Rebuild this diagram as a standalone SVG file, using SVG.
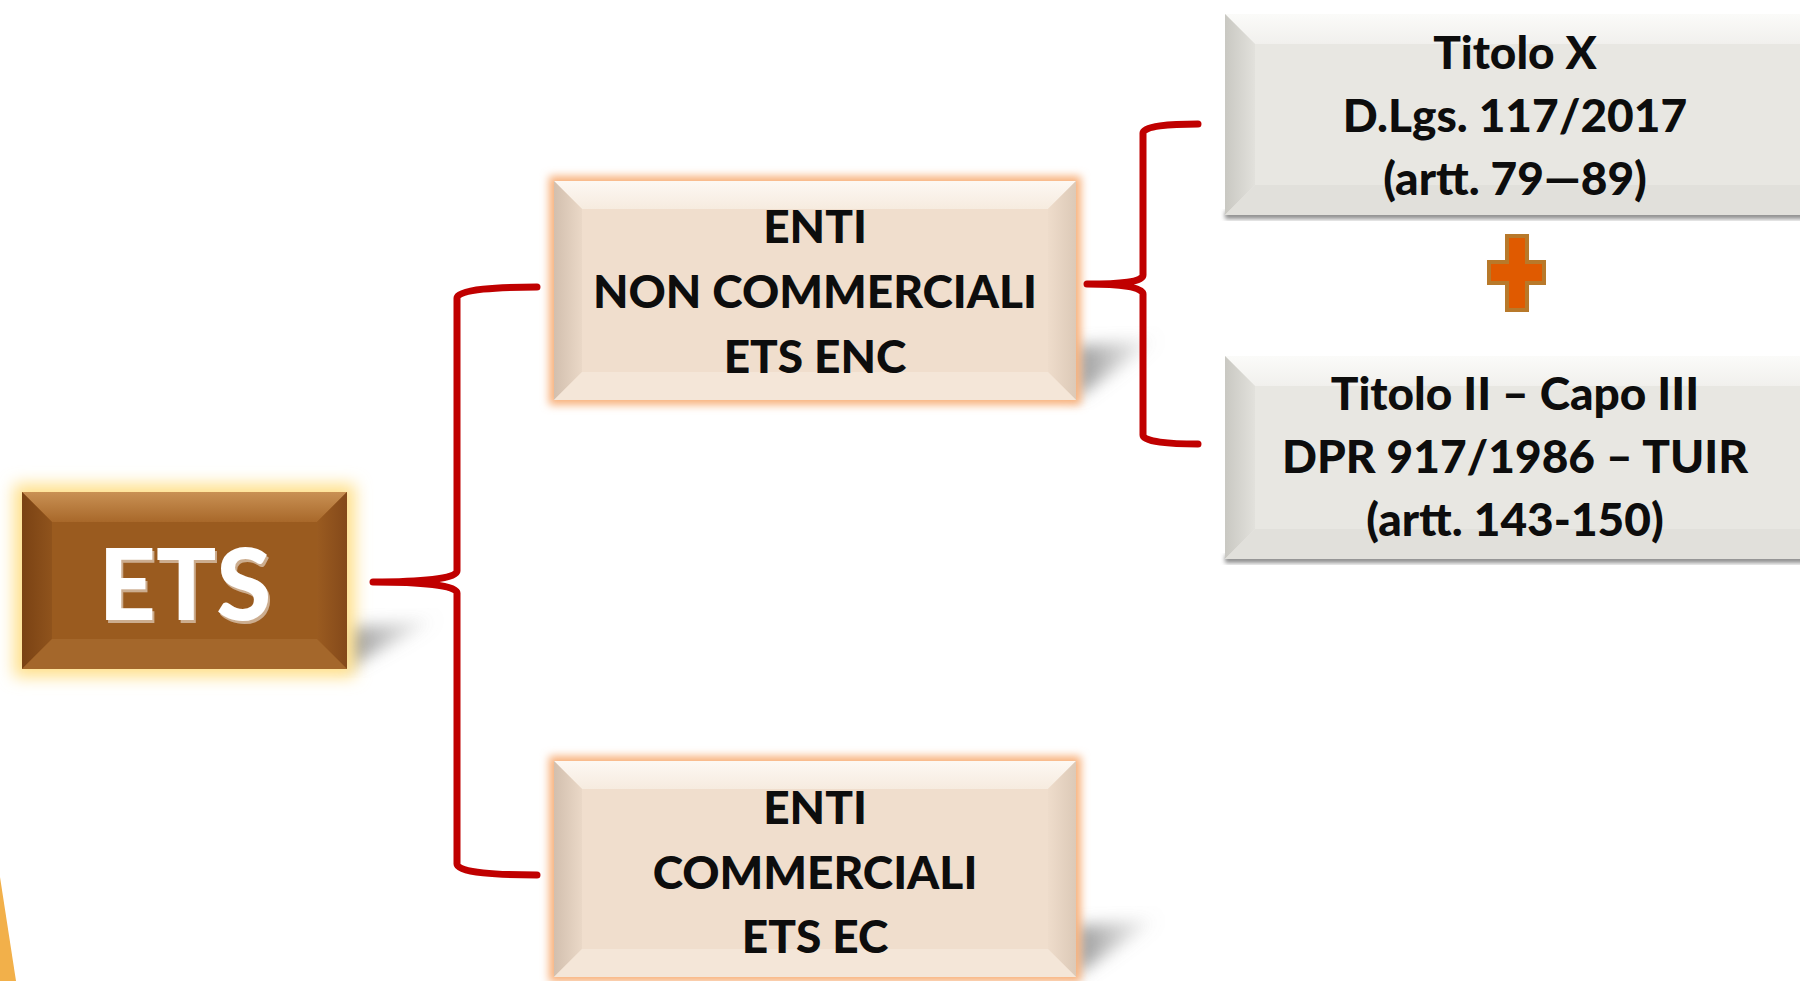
<svg xmlns="http://www.w3.org/2000/svg" width="1800" height="981" viewBox="0 0 1800 981">
<defs>
<style>
.t{font-family:Lato,"Open Sans","Liberation Sans",sans-serif;font-weight:900;fill:#0d0d0d;text-anchor:middle}
.tw{font-family:Lato,"Open Sans","Liberation Sans",sans-serif;font-weight:900;fill:#ffffff;text-anchor:middle}
.br{fill:none;stroke:#C00000;stroke-width:7;stroke-linecap:round;stroke-linejoin:round}
</style>
<filter id="blur8" x="-20%" y="-20%" width="140%" height="140%"><feGaussianBlur stdDeviation="8"/></filter>
<filter id="blur4" x="-20%" y="-20%" width="140%" height="140%"><feGaussianBlur stdDeviation="4"/></filter>
<filter id="blur2" x="-20%" y="-20%" width="140%" height="140%"><feGaussianBlur stdDeviation="2"/></filter>
<linearGradient id="shd" x1="0" y1="0" x2="1" y2="0"><stop offset="0" stop-color="#7a7a7a" stop-opacity="0.8"/><stop offset="1" stop-color="#9a9a9a" stop-opacity="0"/></linearGradient>
<linearGradient id="encTop" x1="0" y1="0" x2="0" y2="1"><stop offset="0" stop-color="#fdf8f3"/><stop offset="1" stop-color="#f6ebdf"/></linearGradient>
<linearGradient id="encLeft" x1="0" y1="0" x2="1" y2="0"><stop offset="0" stop-color="#d2bfae"/><stop offset="1" stop-color="#ead8c7"/></linearGradient>
<linearGradient id="encRight" x1="1" y1="0" x2="0" y2="0"><stop offset="0" stop-color="#dcc9b7"/><stop offset="1" stop-color="#eedccb"/></linearGradient>
<linearGradient id="etsTop" x1="0" y1="0" x2="0" y2="1"><stop offset="0" stop-color="#c99154"/><stop offset="1" stop-color="#a8682a"/></linearGradient>
<linearGradient id="etsLeft" x1="0" y1="0" x2="1" y2="0"><stop offset="0" stop-color="#7a4214"/><stop offset="1" stop-color="#8f531c"/></linearGradient>
<linearGradient id="etsRight" x1="1" y1="0" x2="0" y2="0"><stop offset="0" stop-color="#84491a"/><stop offset="1" stop-color="#9a5b20"/></linearGradient>
<linearGradient id="grTop" x1="0" y1="0" x2="0" y2="1"><stop offset="0" stop-color="#fbfbf9"/><stop offset="1" stop-color="#f1f0ed"/></linearGradient>
<linearGradient id="grLeft" x1="0" y1="0" x2="1" y2="0"><stop offset="0" stop-color="#c9c8c2"/><stop offset="1" stop-color="#e2e1dc"/></linearGradient>
</defs>
<rect width="1800" height="981" fill="#ffffff"/>
<polygon points="0,877 16,981 0,981" fill="#F2B04A"/>

<g id="node-ets">
<polygon points="347,628 440,618 347,668" fill="url(#shd)" filter="url(#blur8)"/>
<rect x="14" y="484" width="341" height="193" fill="#FFE08A" filter="url(#blur8)"/>
<rect x="22" y="492" width="325" height="177" fill="#9A5B1F"/>
<polygon points="22,492 347,492 317,522 52,522" fill="url(#etsTop)"/>
<polygon points="22,492 52,522 52,639 22,669" fill="url(#etsLeft)"/>
<polygon points="347,492 347,669 317,639 317,522" fill="url(#etsRight)"/>
<polygon points="22,669 52,639 317,639 347,669" fill="#a4672b"/>
<text class="tw" x="185" y="620" font-size="100" fill="#5a3008" opacity="0.5" transform="translate(2,3)">ETS</text>
<text class="tw" x="185" y="620" font-size="100">ETS</text>
</g>

<g id="node-enc">
<polygon points="1076,346 1160,338 1076,398" fill="url(#shd)" filter="url(#blur8)"/>
<rect x="549" y="176" width="532" height="229" fill="#F8B07A" filter="url(#blur4)"/>
<rect x="554" y="181" width="522" height="219" fill="#F0DECD"/>
<polygon points="554,181 1076,181 1048,209 582,209" fill="url(#encTop)"/>
<polygon points="554,181 582,209 582,372 554,400" fill="url(#encLeft)"/>
<polygon points="1076,181 1076,400 1048,372 1048,209" fill="url(#encRight)"/>
<polygon points="554,400 582,372 1048,372 1076,400" fill="#f4e6d8"/>
<text class="t" x="815" y="243" font-size="46">ENTI</text>
<text class="t" x="815" y="308" font-size="46">NON COMMERCIALI</text>
<text class="t" x="815" y="373" font-size="46">ETS ENC</text>
</g>

<g id="node-ec">
<polygon points="1076,926 1160,918 1076,975" fill="url(#shd)" filter="url(#blur8)"/>
<rect x="549" y="756" width="532" height="226" fill="#F8B07A" filter="url(#blur4)"/>
<rect x="554" y="761" width="522" height="216" fill="#F0DECD"/>
<polygon points="554,761 1076,761 1048,789 582,789" fill="url(#encTop)"/>
<polygon points="554,761 582,789 582,949 554,977" fill="url(#encLeft)"/>
<polygon points="1076,761 1076,977 1048,949 1048,789" fill="url(#encRight)"/>
<polygon points="554,977 582,949 1048,949 1076,977" fill="#f4e6d8"/>
<text class="t" x="815" y="824" font-size="46">ENTI</text>
<text class="t" x="815" y="889" font-size="46">COMMERCIALI</text>
<text class="t" x="815" y="953" font-size="46">ETS EC</text>
</g>

<g id="node-titolo-x">
<rect x="1225" y="211" width="605" height="8" fill="#8f8f8f" filter="url(#blur2)"/>
<rect x="1225" y="14" width="605" height="201" fill="#E8E7E2"/>
<polygon points="1225,14 1830,14 1800,44 1255,44" fill="url(#grTop)"/>
<polygon points="1225,14 1255,44 1255,185 1225,215" fill="url(#grLeft)"/>
<polygon points="1830,14 1830,215 1800,185 1800,44" fill="#dcdbd6"/>
<polygon points="1225,215 1255,185 1800,185 1830,215" fill="#e1e0db"/>
<text class="t" x="1515" y="69" font-size="46">Titolo X</text>
<text class="t" x="1515" y="132" font-size="46">D.Lgs. 117/2017</text>
<text class="t" x="1515" y="195" font-size="46">(artt. 79—89)</text>
</g>

<g id="node-titolo-ii">
<rect x="1225" y="555" width="605" height="8" fill="#8f8f8f" filter="url(#blur2)"/>
<rect x="1225" y="356" width="605" height="203" fill="#E8E7E2"/>
<polygon points="1225,356 1830,356 1800,386 1255,386" fill="url(#grTop)"/>
<polygon points="1225,356 1255,386 1255,529 1225,559" fill="url(#grLeft)"/>
<polygon points="1830,356 1830,559 1800,529 1800,386" fill="#dcdbd6"/>
<polygon points="1225,559 1255,529 1800,529 1830,559" fill="#e1e0db"/>
<text class="t" x="1515" y="410" font-size="46">Titolo II – Capo III</text>
<text class="t" x="1515" y="473" font-size="46">DPR 917/1986 – TUIR</text>
<text class="t" x="1515" y="536" font-size="46">(artt. 143-150)</text>
</g>

<g id="plus">
<polygon points="1507,236 1527,236 1527,262 1544,262 1544,283 1527,283 1527,310 1507,310 1507,283 1489,283 1489,262 1507,262" fill="#E05A00" stroke="#B8792A" stroke-width="4"/>
</g>

<g id="connectors">
<path class="br" d="M537,287 C500,287 457,289 457,298 L457,571 C457,579 420,582 373,582 C420,582 457,585 457,593 L457,864 C457,873 500,875 537,875"/>
<path class="br" d="M1198,124 C1170,124 1143,126 1143,133 L1143,275 C1143,282 1120,284 1087,284 C1120,284 1143,287 1143,294 L1143,435 C1143,442 1170,444 1198,444"/>
</g>
</svg>
